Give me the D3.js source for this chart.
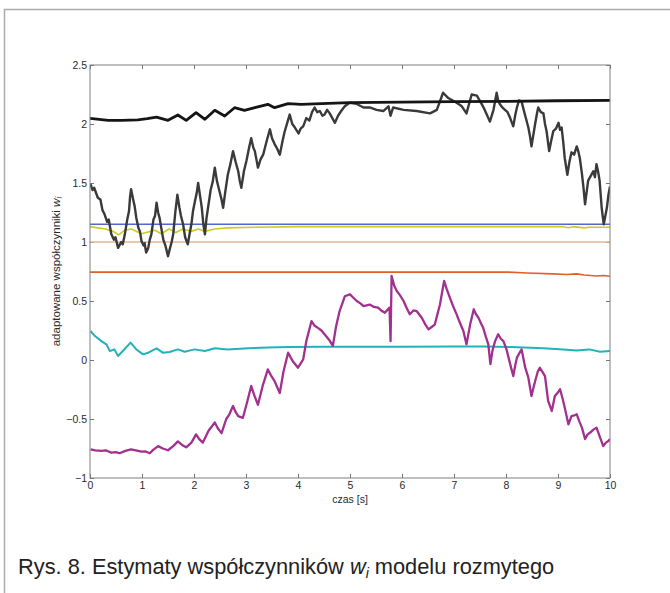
<!DOCTYPE html>
<html>
<head>
<meta charset="utf-8">
<script src="https://cdn.jsdelivr.net/npm/d3@7"></script>
<style>
  body { margin: 0; background: #fff; }
  svg { display: block; font-family: "Liberation Sans", Arial, sans-serif; }
  .tick text { fill: #2a2a2a; font-size: 10.5px; }
  .tick line { stroke: #777; }
</style>
</head>
<body>
<svg id="chart" width="670" height="593"></svg>
<script>
// adaptive weight estimates w_i vs time

var xTicks = [0, 1, 2, 3, 4, 5, 6, 7, 8, 9, 10];
var yTicks = [-1, -0.5, 0, 0.5, 1, 1.5, 2, 2.5];

// thick black, slowly rising to ~2.2
var wBlack = [[0,2.048],[0.35,2.031],[0.6,2.031],[0.92,2.035],[1.1,2.045],[1.28,2.059],[1.5,2.031],
  [1.69,2.076],[1.85,2.031],[2.04,2.096],[2.21,2.04],[2.40,2.116],[2.59,2.068],[2.78,2.138],
  [2.97,2.116],[3.17,2.138],[3.42,2.167],[3.55,2.138],[3.81,2.172],[4.06,2.167],[4.45,2.172],
  [4.99,2.181],[6,2.185],[7,2.19],[8,2.192],[9,2.197],[10,2.2]];

// noisy dark grey
var wGrey = [[0.01,1.49],[0.05,1.44],[0.08,1.46],[0.15,1.375],[0.2,1.36],[0.24,1.27],[0.28,1.235],
  [0.33,1.17],[0.36,1.19],[0.41,1.065],[0.46,1.02],[0.49,1.04],[0.54,0.95],[0.6,1.0],[0.63,0.98],
  [0.67,1.065],[0.72,1.2],[0.75,1.26],[0.77,1.38],[0.79,1.447],[0.83,1.36],[0.86,1.3],[0.89,1.206],
  [0.93,1.12],[0.96,1.09],[0.99,1.008],[1.03,0.97],[1.05,0.99],[1.08,0.91],[1.12,0.95],[1.15,1.02],
  [1.18,1.065],[1.22,1.19],[1.25,1.22],[1.28,1.333],[1.31,1.25],[1.34,1.2],[1.37,1.12],[1.41,1.02],
  [1.45,0.97],[1.5,0.88],[1.54,0.95],[1.57,1.0],[1.6,1.065],[1.64,1.25],[1.68,1.40],[1.72,1.29],
  [1.75,1.22],[1.79,1.15],[1.83,1.04],[1.88,0.98],[1.92,1.08],[1.95,1.15],[1.98,1.26],[2.02,1.35],
  [2.05,1.41],[2.08,1.50],[2.12,1.38],[2.15,1.29],[2.18,1.15],[2.21,1.065],[2.24,1.2],[2.28,1.32],
  [2.32,1.44],[2.36,1.51],[2.40,1.63],[2.44,1.52],[2.49,1.43],[2.53,1.36],[2.56,1.29],[2.6,1.42],
  [2.65,1.57],[2.7,1.66],[2.75,1.77],[2.8,1.68],[2.85,1.60],[2.88,1.52],[2.91,1.46],[2.96,1.6],
  [3.01,1.69],[3.06,1.8],[3.10,1.88],[3.14,1.8],[3.17,1.77],[3.2,1.7],[3.23,1.63],[3.28,1.7],
  [3.33,1.74],[3.4,1.86],[3.46,1.955],[3.5,1.88],[3.55,1.83],[3.6,1.79],[3.65,1.74],[3.7,1.85],
  [3.74,1.93],[3.8,2.02],[3.84,2.08],[3.89,2.0],[3.94,1.97],[4.01,1.92],[4.05,1.96],[4.10,1.98],
  [4.16,2.05],[4.22,2.03],[4.27,2.1],[4.32,2.14],[4.37,2.1],[4.42,2.11],[4.47,2.07],[4.51,2.08],
  [4.56,2.12],[4.61,2.09],[4.66,2.05],[4.71,2.01],[4.77,2.07],[4.83,2.11],[4.9,2.15],[4.99,2.18],
  [5.13,2.17],[5.26,2.14],[5.38,2.14],[5.51,2.12],[5.64,2.11],[5.74,2.15],[5.78,2.07],[5.83,2.14],
  [6.03,2.12],[6.28,2.11],[6.54,2.09],[6.67,2.12],[6.79,2.265],[6.89,2.22],[7.05,2.18],[7.15,2.15],
  [7.24,2.09],[7.34,2.25],[7.44,2.24],[7.53,2.17],[7.58,2.13],[7.63,2.08],[7.69,2.02],[7.76,2.12],
  [7.82,2.265],[7.85,2.2],[7.88,2.17],[7.93,2.14],[7.98,2.12],[8.03,2.1],[8.08,2.05],[8.14,1.98],
  [8.18,2.08],[8.21,2.14],[8.25,2.2],[8.30,2.19],[8.34,2.12],[8.37,2.07],[8.43,1.97],[8.46,1.9],
  [8.49,1.81],[8.53,1.92],[8.56,2.0],[8.6,2.1],[8.62,2.14],[8.67,2.1],[8.72,2.09],[8.75,2.0],
  [8.78,1.94],[8.83,1.77],[8.87,1.86],[8.91,1.94],[8.96,1.96],[9.01,2.01],[9.04,1.95],[9.07,1.97],
  [9.1,1.85],[9.13,1.71],[9.18,1.57],[9.22,1.68],[9.26,1.76],[9.31,1.74],[9.36,1.81],[9.39,1.77],
  [9.42,1.71],[9.46,1.58],[9.49,1.46],[9.52,1.32],[9.55,1.42],[9.58,1.52],[9.63,1.56],[9.68,1.60],
  [9.71,1.55],[9.74,1.66],[9.77,1.6],[9.80,1.52],[9.84,1.29],[9.88,1.15],[9.91,1.22],[9.94,1.29],
  [9.97,1.4],[10,1.47]];

var wBlue = [[0,1.15],[10,1.15]];

var wYellow = [[0,1.13],[0.15,1.12],[0.3,1.11],[0.45,1.09],[0.55,1.06],[0.67,1.10],[0.8,1.11],
  [0.99,1.07],[1.08,1.08],[1.25,1.10],[1.37,1.07],[1.52,1.11],[1.65,1.08],[1.79,1.11],[1.95,1.09],
  [2.08,1.11],[2.21,1.09],[2.4,1.11],[2.65,1.12],[3.17,1.125],[4,1.13],[6,1.13],[8,1.13],
  [9.1,1.13],[9.2,1.12],[9.3,1.13],[9.5,1.12],[9.6,1.125],[10,1.125]];

var wTan = [[0,1.0],[10,1.0]];

var wOrange = [[0,0.745],[8.05,0.745],[8.4,0.737],[8.9,0.73],[9.17,0.725],[9.36,0.73],
  [9.5,0.72],[9.75,0.712],[9.87,0.716],[10,0.71]];

var wCyan = [[0.01,0.246],[0.09,0.205],[0.22,0.16],[0.32,0.13],[0.38,0.076],[0.47,0.09],[0.54,0.034],
  [0.63,0.076],[0.78,0.147],[0.89,0.09],[1.02,0.048],[1.12,0.062],[1.28,0.099],[1.4,0.062],
  [1.53,0.068],[1.69,0.09],[1.82,0.07],[2.01,0.09],[2.21,0.076],[2.40,0.099],[2.65,0.09],
  [3.04,0.099],[3.42,0.105],[3.81,0.11],[4.45,0.113],[5,0.113],[6,0.113],[7,0.115],[7.56,0.115],
  [8.1,0.11],[8.72,0.099],[9.1,0.09],[9.36,0.08],[9.6,0.09],[9.81,0.07],[10,0.076]];

var wMagenta = [[0.01,-0.757],[0.1,-0.765],[0.22,-0.77],[0.3,-0.765],[0.41,-0.785],[0.5,-0.78],
  [0.57,-0.79],[0.68,-0.77],[0.79,-0.757],[0.88,-0.765],[0.99,-0.776],[1.07,-0.775],[1.15,-0.79],
  [1.22,-0.76],[1.31,-0.73],[1.4,-0.75],[1.50,-0.765],[1.6,-0.73],[1.69,-0.69],[1.77,-0.72],
  [1.85,-0.74],[1.95,-0.7],[2.04,-0.63],[2.1,-0.67],[2.17,-0.70],[2.28,-0.6],[2.40,-0.53],
  [2.46,-0.58],[2.53,-0.62],[2.62,-0.5],[2.68,-0.46],[2.75,-0.39],[2.8,-0.44],[2.85,-0.475],
  [2.94,-0.49],[3.02,-0.36],[3.10,-0.22],[3.16,-0.3],[3.23,-0.38],[3.32,-0.22],[3.42,-0.08],
  [3.48,-0.13],[3.55,-0.18],[3.65,-0.28],[3.72,-0.1],[3.81,0.062],[3.86,0.02],[3.90,-0.01],
  [4.0,-0.065],[4.1,0.006],[4.16,0.16],[4.26,0.33],[4.32,0.29],[4.39,0.27],[4.45,0.25],[4.51,0.218],
  [4.6,0.17],[4.67,0.12],[4.73,0.28],[4.8,0.415],[4.9,0.54],[5.0,0.556],[5.06,0.53],[5.13,0.50],
  [5.2,0.48],[5.26,0.457],[5.38,0.47],[5.46,0.45],[5.54,0.444],[5.6,0.42],[5.67,0.40],[5.76,0.444],
  [5.78,0.16],[5.80,0.712],[5.85,0.63],[5.9,0.585],[5.96,0.55],[6.03,0.50],[6.09,0.44],[6.15,0.387],
  [6.22,0.42],[6.28,0.415],[6.38,0.358],[6.45,0.3],[6.51,0.26],[6.57,0.28],[6.63,0.30],[6.73,0.47],
  [6.81,0.67],[6.86,0.6],[6.92,0.528],[6.98,0.46],[7.05,0.387],[7.1,0.33],[7.18,0.246],[7.24,0.133],
  [7.31,0.30],[7.38,0.43],[7.42,0.39],[7.47,0.358],[7.52,0.31],[7.56,0.274],[7.61,0.2],[7.66,0.133],
  [7.70,-0.035],[7.74,0.08],[7.79,0.16],[7.85,0.218],[7.9,0.18],[7.95,0.16],[8.01,0.09],[8.08,-0.035],
  [8.14,-0.136],[8.18,-0.04],[8.21,0.02],[8.26,0.06],[8.30,0.09],[8.34,0.0],[8.37,-0.065],[8.43,-0.15],
  [8.49,-0.305],[8.53,-0.23],[8.56,-0.18],[8.61,-0.1],[8.65,-0.065],[8.7,-0.1],[8.75,-0.136],
  [8.81,-0.347],[8.88,-0.432],[8.94,-0.305],[8.99,-0.28],[9.04,-0.248],[9.09,-0.33],[9.13,-0.404],
  [9.20,-0.545],[9.26,-0.475],[9.31,-0.47],[9.36,-0.46],[9.41,-0.52],[9.46,-0.573],[9.52,-0.67],
  [9.57,-0.63],[9.62,-0.615],[9.68,-0.59],[9.74,-0.573],[9.81,-0.658],[9.87,-0.73],[9.92,-0.7],
  [9.97,-0.686],[10,-0.67]];

var svg = d3.select("#chart");

// outer frame of the figure
svg.append("path")
  .attr("d", "M4.5,593V9.5H670")
  .attr("fill", "none")
  .attr("stroke", "#aaa")
  .attr("stroke-width", 1.5);

var plotLeft = 90, plotRight = 610, plotTop = 65, plotBottom = 478;
var x = d3.scaleLinear().domain([0, 10]).range([plotLeft, plotRight]);
var y = d3.scaleLinear().domain([-1, 2.5]).range([plotBottom, plotTop]);

svg.append("clipPath").attr("id", "plotclip")
  .append("rect")
  .attr("x", plotLeft).attr("y", plotTop)
  .attr("width", plotRight - plotLeft).attr("height", plotBottom - plotTop);

// ticks point inwards on all four sides (matlab box)
svg.append("g")
  .attr("transform", "translate(0," + plotBottom + ")")
  .call(d3.axisBottom(x).tickValues(xTicks).tickSizeInner(-4).tickSizeOuter(0).tickPadding(4))
  .call(function (g) { g.select(".domain").remove(); });
svg.append("g")
  .attr("transform", "translate(0," + plotTop + ")")
  .call(d3.axisTop(x).tickValues(xTicks).tickSizeInner(-4).tickSizeOuter(0).tickFormat(""))
  .call(function (g) { g.select(".domain").remove(); });
svg.append("g")
  .attr("transform", "translate(" + plotLeft + ",0)")
  .call(d3.axisLeft(y).tickValues(yTicks).tickSizeInner(-4).tickSizeOuter(0).tickPadding(3)
    .tickFormat(function (d) { return d3.format("")(d); }))
  .call(function (g) { g.select(".domain").remove(); });
svg.append("g")
  .attr("transform", "translate(" + plotRight + ",0)")
  .call(d3.axisRight(y).tickValues(yTicks).tickSizeInner(-4).tickSizeOuter(0).tickFormat(""))
  .call(function (g) { g.select(".domain").remove(); });

var line = d3.line()
  .x(function (d) { return x(d[0]); })
  .y(function (d) { return y(d[1]); });

var plot = svg.append("g").attr("clip-path", "url(#plotclip)");

function drawSeries(data, color, width) {
  plot.append("path")
    .datum(data)
    .attr("fill", "none")
    .attr("stroke", color)
    .attr("stroke-width", width)
    .attr("stroke-linejoin", "round")
    .attr("d", line);
}

drawSeries(wTan, "#dcb894", 1.6);
drawSeries(wOrange, "#e0602c", 1.6);
drawSeries(wYellow, "#cccc22", 1.6);
drawSeries(wBlue, "#5068d0", 1.6);
drawSeries(wCyan, "#22b2ba", 2);
drawSeries(wMagenta, "#a2308e", 2.3);
drawSeries(wGrey, "#3a3a3a", 2.4);
drawSeries(wBlack, "#151515", 2.8);

// plot box
svg.append("rect")
  .attr("x", plotLeft).attr("y", plotTop)
  .attr("width", plotRight - plotLeft).attr("height", plotBottom - plotTop)
  .attr("fill", "none")
  .attr("stroke", "#808080")
  .attr("stroke-width", 1);

// axis labels
svg.append("text")
  .attr("x", (plotLeft + plotRight) / 2).attr("y", 503)
  .attr("text-anchor", "middle")
  .attr("font-size", 10.5).attr("fill", "#2a2a2a")
  .text("czas [s]");

var ylab = svg.append("text")
  .attr("transform", "translate(60," + (plotTop + plotBottom) / 2 + ") rotate(-90)")
  .attr("text-anchor", "middle")
  .attr("font-size", 11.5).attr("fill", "#2a2a2a");
ylab.append("tspan").text("adaptowane współczynniki ");
ylab.append("tspan").attr("font-style", "italic").text("w");
ylab.append("tspan").attr("font-style", "italic").attr("font-size", 8.5).attr("dy", 2).text("i");

// caption
var cap = svg.append("text")
  .attr("x", 18).attr("y", 574)
  .attr("font-size", 21.8).attr("fill", "#222");
cap.append("tspan").text("Rys. 8. Estymaty współczynników ");
cap.append("tspan").attr("font-style", "italic").text("w");
cap.append("tspan").attr("font-style", "italic").attr("font-size", 14).attr("dy", 4).text("i");
cap.append("tspan").attr("dy", -4).text(" modelu rozmytego");
</script>
</body>
</html>
